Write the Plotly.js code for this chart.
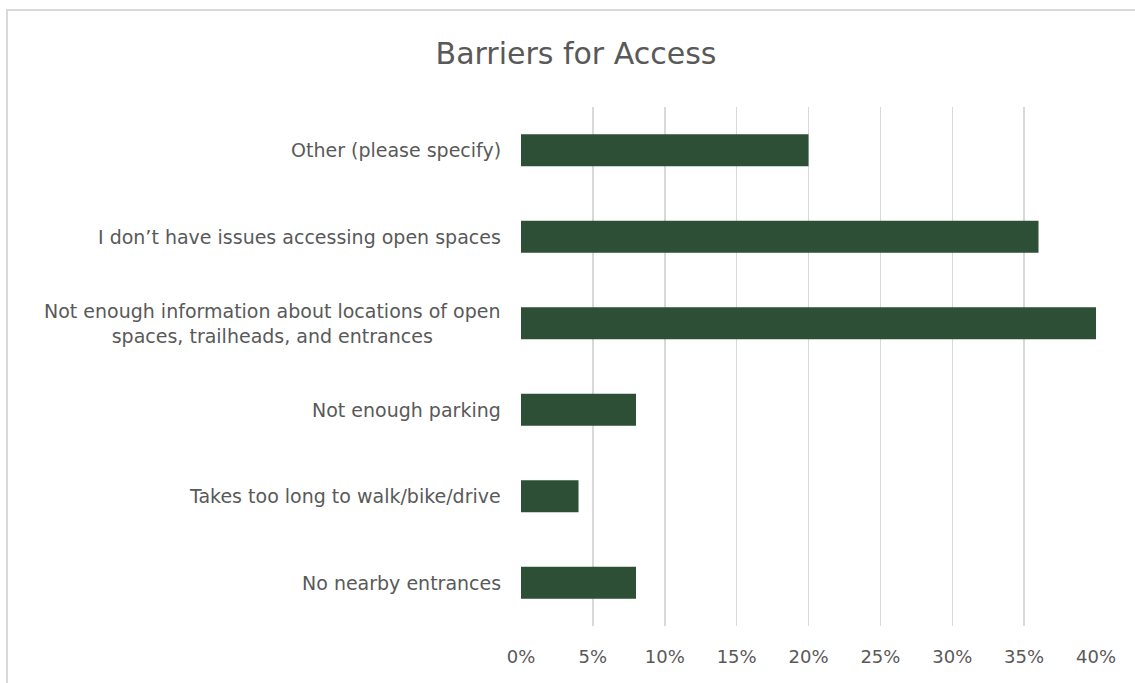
<!DOCTYPE html>
<html>
<head>
<meta charset="utf-8">
<script src="https://cdn.plot.ly/plotly-3.0.1.min.js"></script>
<style>
html,body{margin:0;padding:0;background:#fff;}
#chart{width:1135px;height:683px;position:relative;}
#frame{position:absolute;left:6px;top:9px;width:1135px;height:690px;border:2px solid #d9d9d9;box-sizing:border-box;pointer-events:none;}
</style>
</head>
<body>
<div id="chart"></div>
<div id="frame"></div>
<script>
const categories = [
  "No nearby entrances",
  "Takes too long to walk/bike/drive",
  "Not enough parking",
  "Not enough information about locations of open<br>spaces, trailheads, and entrances",
  "I don\u2019t have issues accessing open spaces",
  "Other (please specify)"
];
const values = [0.08, 0.04, 0.08, 0.40, 0.36, 0.20];
const tickVals = [0, 0.05, 0.10, 0.15, 0.20, 0.25, 0.30, 0.35, 0.40];
const tickText = ["0%", "5%", "10%", "15%", "20%", "25%", "30%", "35%", "40%"];

const font = "'DejaVu Sans', sans-serif";
const grey = "#595959";

const trace = {
  type: "bar",
  orientation: "h",
  x: values,
  y: categories,
  marker: {color: "#2c4f35", line: {width: 0}},
  width: 0.37,
  hoverinfo: "x+y"
};

const annotations = categories.map(c => ({
  xref: "paper", yref: "y",
  x: 0, y: c,
  xanchor: "right", yanchor: "middle",
  xshift: -18,
  text: c,
  align: "center",
  showarrow: false,
  font: {family: font, size: 19, color: grey}
}));

const layout = {
  width: 1135, height: 683,
  margin: {l: 521, r: 39, t: 107, b: 57, pad: 0},
  paper_bgcolor: "#ffffff",
  plot_bgcolor: "#ffffff",
  title: {
    text: "Barriers for Access",
    font: {family: font, size: 30, color: grey},
    x: 576/1135, xanchor: "center", xref: "container",
    y: 1 - 53/683, yanchor: "middle", yref: "container"
  },
  xaxis: {
    range: [0, 0.40],
    tickvals: tickVals,
    ticktext: tickText,
    showgrid: true,
    gridcolor: "#d9d9d9",
    gridwidth: 1.5,
    zeroline: false,
    showline: false,
    ticks: "",
    ticklen: 0,
    ticklabelstandoff: 18,
    tickfont: {family: font, size: 18, color: grey},
    fixedrange: true
  },
  yaxis: {
    type: "category",
    categoryorder: "array",
    categoryarray: categories,
    range: [-0.5, 5.5],
    showticklabels: false,
    showgrid: false,
    zeroline: false,
    showline: false,
    ticks: "",
    fixedrange: true
  },
  annotations: annotations,
  showlegend: false,
  bargap: 0.63
};

Plotly.newPlot("chart", [trace], layout, {displayModeBar: false, staticPlot: true});
</script>
</body>
</html>
